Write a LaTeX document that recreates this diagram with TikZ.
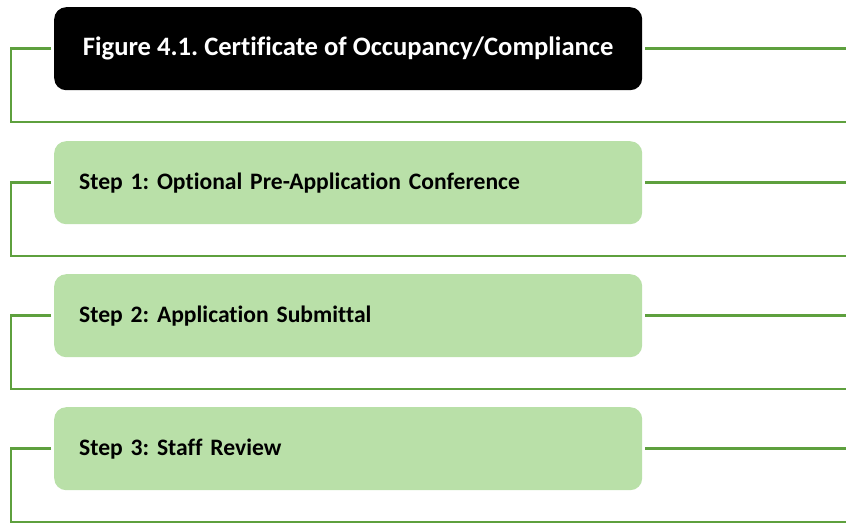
\documentclass[tikz,border=0pt]{standalone}
\usepackage{fontspec}
\setmainfont[Ligatures={NoCommon}]{Carlito}
\definecolor{lineGreen}{RGB}{94,160,62}
\definecolor{boxGreen}{RGB}{185,224,168}
\frenchspacing
\begin{document}
\begin{tikzpicture}[x=1pt,y=-1pt,
  conn/.style={draw=lineGreen,line width=2.6pt},
  titlebox/.style={fill=black,rounded corners=12pt,minimum width=588pt,minimum height=83pt,
    anchor=north west,text=white,font=\bfseries\fontsize{26.6}{30}\selectfont,inner sep=0pt},
  stepbox/.style={fill=boxGreen,rounded corners=12pt,text width=538pt,inner xsep=25pt,inner ysep=0pt,
    minimum height=83pt,anchor=north west,align=left,font=\bfseries\fontsize{23.6}{27}\selectfont}]
\useasboundingbox[fill=white] (0,0) rectangle (846,523);
\node[titlebox] (b0) at (54,7) {Figure 4.1. Certificate of Occupancy/Compliance};
\node[stepbox] (b1) at (54,141) {Step 1: Optional Pre-Application Conference};
\node[stepbox] (b2) at (54,274) {Step 2: Application Submittal};
\node[stepbox] (b3) at (54,407) {Step 3: Staff Review};
\foreach \i/\yb in {0/122,1/256,2/389,3/522}{
  \coordinate (l\i) at (11,\yb);
  \coordinate (e\i) at (846,\yb);
  \draw[conn] ([xshift=-3pt]b\i.west) -| (l\i) -- (e\i);
  \coordinate (r\i) at (846,0);
  \draw[conn] ([xshift=3pt]b\i.east) -- (b\i.east -| r\i);
}
\end{tikzpicture}
\end{document}
